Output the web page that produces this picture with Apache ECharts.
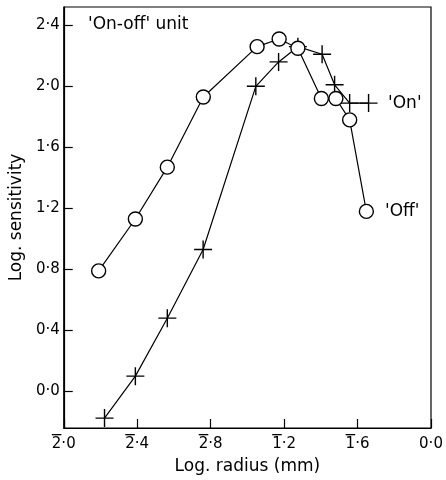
<!DOCTYPE html>
<html><head><meta charset="utf-8">
<script src="https://cdn.jsdelivr.net/npm/echarts@6/dist/echarts.min.js"></script>
<style>html,body{margin:0;padding:0;background:#fff}#c{width:446px;height:480px}</style>
</head><body><div id="c"></div>
<script>
// 'Off' response (circles)
const offX = [-1.81, -1.61, -1.436, -1.24, -0.947, -0.827, -0.725, -0.597, -0.518, -0.443, -0.352];
const offY = [0.79, 1.13, 1.47, 1.93, 2.26, 2.31, 2.25, 1.92, 1.92, 1.78, 1.18];
// 'On' response (crosses)
const onX = [-1.778, -1.61, -1.436, -1.241, -0.954, -0.83, -0.725, -0.593, -0.525, -0.443, -0.34];
const onY = [-0.175, 0.10, 0.48, 0.93, 2.00, 2.16, 2.26, 2.21, 2.01, 1.89, 1.89];
// axis ticks (bar notation logarithms: characteristic with overbar)
const xTickValues = [-2.0, -1.6, -1.2, -0.8, -0.4, 0.0];
const xTickLabels = ['2\u0305\u00b70', '2\u0305\u00b74', '2\u0305\u00b78', '1\u0305\u00b72', '1\u0305\u00b76', '0\u00b70'];
const yTickValues = [0.0, 0.4, 0.8, 1.2, 1.6, 2.0, 2.4];
const yTickLabels = ['0\u00b70', '0\u00b74', '0\u00b78', '1\u00b72', '1\u00b76', '2\u00b70', '2\u00b74'];

const FONT = 'DejaVu Sans';
const chart = echarts.init(document.getElementById('c'), null, {renderer: 'canvas'});
const zip = (xs, ys) => xs.map((x, i) => [x, ys[i]]);
const offData = zip(offX, offY);
offData[offData.length - 1] = {value: offData[offData.length - 1], label: {show: true, formatter: "'Off'", position: 'right', distance: 11, color: '#000', fontFamily: FONT, fontSize: 17}};
const onData = zip(onX, onY);
onData[onData.length - 1] = {value: onData[onData.length - 1], label: {show: true, formatter: "'On'", position: 'right', distance: 8, color: '#000', fontFamily: FONT, fontSize: 17}};

function barLabel(s) {
  const hasBar = s.indexOf('\u0305') >= 0;
  const plain = s.replace('\u0305', '');
  const first = plain.charAt(0), rest = plain.slice(1);
  return '{' + (hasBar ? 'ov' : 'hid') + '|' + first + '}{hid|' + rest + '}\n{d|' + plain + '}';
}
const T = 'rgba(0,0,0,0)';

chart.setOption({
  animation: false,
  backgroundColor: '#fff',
  grid: {left: 62, right: 15, top: 7, bottom: 50, show: true, borderColor: '#000', borderWidth: 1.2, backgroundColor: 'transparent'},
  xAxis: {
    type: 'value', min: -2.0, max: 0.0, interval: 0.4,
    name: 'Log. radius (mm)', nameLocation: 'middle', nameGap: 30,
    nameTextStyle: {color: '#000', fontFamily: FONT, fontSize: 17},
    axisLine: {onZero: false, lineStyle: {color: '#000', width: 1.2}},
    axisTick: {inside: true, length: 9, lineStyle: {color: '#000', width: 1.2}},
    splitLine: {show: false},
    axisLabel: {color: '#000', fontFamily: FONT, fontSize: 15, margin: 6,
      formatter: v => { const i = xTickValues.findIndex(t => Math.abs(t - v) < 1e-6); return i >= 0 ? barLabel(xTickLabels[i]) : ''; },
      rich: {
        ov: {fontFamily: FONT, fontSize: 15, color: T, backgroundColor: '#000', height: 1.3, lineHeight: 1.3},
        hid: {fontFamily: FONT, fontSize: 15, color: T, height: 1.3, lineHeight: 1.3},
        d: {fontFamily: FONT, fontSize: 15, color: '#000', lineHeight: 18}
      }}
  },
  yAxis: {
    type: 'value', min: -0.24, max: 2.52,
    name: 'Log. sensitivity', nameLocation: 'middle', nameGap: 29,
    nameTextStyle: {color: '#000', fontFamily: FONT, fontSize: 17},
    axisLine: {onZero: false, lineStyle: {color: '#000', width: 1.2}},
    axisTick: {inside: true, length: 9, customValues: yTickValues, lineStyle: {color: '#000', width: 1.2}},
    splitLine: {show: false},
    axisLabel: {color: '#000', fontFamily: FONT, fontSize: 15, margin: 4, customValues: yTickValues,
      formatter: v => { const i = yTickValues.findIndex(t => Math.abs(t - v) < 1e-6); return i >= 0 ? yTickLabels[i] : ''; }}
  },
  graphic: [{type: 'text', left: 88, top: 16, style: {text: "'On-off' unit", fill: '#000', font: '17px ' + FONT}}],
  series: [
    {type: 'line', data: onData, symbol: 'path://M10,0L10,20M0,10L20,10', symbolSize: 18, z: 2,
      lineStyle: {color: '#000', width: 1.2}, itemStyle: {color: 'none', borderColor: '#000', borderWidth: 1.4}},
    {type: 'line', data: offData, symbol: 'circle', symbolSize: 14, z: 3,
      lineStyle: {color: '#000', width: 1.2}, itemStyle: {color: '#fff', borderColor: '#000', borderWidth: 1.4}}
  ]
});
</script></body></html>
